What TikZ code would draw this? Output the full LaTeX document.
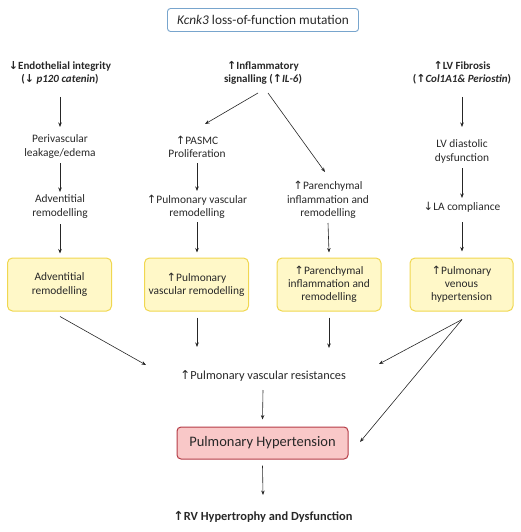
\documentclass[tikz,border=0pt]{standalone}
\usepackage{fontspec}
\setmainfont{Carlito}
\newfontfamily\arrfont{DejaVu Sans}
\usetikzlibrary{arrows.meta}
\newcommand{\uar}{{\arrfont ↑}}
\newcommand{\dar}{{\arrfont ↓}}
\definecolor{txt}{RGB}{40,40,40}
\definecolor{kcborder}{RGB}{120,165,205}
\definecolor{yfill}{RGB}{255,248,200}
\definecolor{yborder}{RGB}{240,215,80}
\definecolor{pfill}{RGB}{249,200,200}
\definecolor{pborder}{RGB}{180,60,70}
\tikzset{
  lbl/.style={inner sep=0pt, align=center, text=txt, font=\fontsize{11.4}{13.2}\selectfont},
  hdr/.style={lbl, font=\fontsize{11}{13.5}\selectfont\bfseries},
  ybox/.style={lbl, draw=yborder, fill=yfill, line width=1pt, rounded corners=5pt,
    minimum width=104pt, minimum height=53pt},
  arr/.style={-{Stealth[length=4.5pt,width=3.5pt]}, line width=0.6pt, draw=black!85},
}
\begin{document}
\begin{tikzpicture}[x=1pt,y=-1pt]
\useasboundingbox (0,0) rectangle (520,532);
\node[lbl, draw=kcborder, line width=0.9pt, rounded corners=3pt, minimum width=191pt,
  minimum height=23pt, font=\fontsize{13.3}{15}\selectfont] (kc) at (263,20)
  {\textit{Kcnk3} loss-of-function mutation};
% row 1
\node[hdr] (endo) at (60,73) {\dar Endothelial integrity\\(\dar\ \textit{p120 catenin})};
\node[hdr] (infl) at (263,73) {\uar Inflammatory\\signalling (\uar\textit{IL-6})};
\node[hdr] (lvf) at (462,73) {\uar LV Fibrosis\\(\uar\textit{Col1A1\& Periostin})};
% row 2
\node[lbl] (peri) at (60,146.5) {Perivascular\\leakage/edema};
\node[lbl] (pasmc) at (197,146.5) {\uar PASMC\\Proliferation};
\node[lbl] (lvd) at (462,151.5) {LV diastolic\\dysfunction};
% row 3
\node[lbl] (adv) at (60,206.5) {Adventitial\\remodelling};
\node[lbl] (pvr) at (197,206.5) {\uar Pulmonary vascular\\remodelling};
\node[lbl] (par) at (328,200) {\uar Parenchymal\\inflammation and\\remodelling};
\node[lbl] (lac) at (462,207) {\dar LA compliance};
% boxes
\node[ybox] (b1) at (59.5,284.5) {Adventitial\\remodelling};
\node[ybox] (b2) at (196.5,284.5) {\uar Pulmonary\\vascular remodelling};
\node[ybox] (b3) at (329,284.5) {\uar Parenchymal\\inflammation and\\remodelling};
\node[ybox, minimum width=103pt] (b4) at (461.5,284.5) {\uar Pulmonary\\venous\\hypertension};
% lower
\node[lbl, font=\fontsize{12.3}{14}\selectfont] (res) at (263,376) {\uar Pulmonary vascular resistances};
\node[lbl, draw=pborder, fill=pfill, line width=1pt, rounded corners=4pt,
  minimum width=171pt, minimum height=32pt, font=\fontsize{14.5}{17}\selectfont] (ph) at (262.5,443)
  {Pulmonary Hypertension};
\node[hdr, font=\fontsize{12.4}{14}\selectfont\bfseries] (rv) at (263,517) {\uar RV Hypertrophy and Dysfunction};
% arrows
\draw[arr] ([yshift=-24pt]endo.center) -- ([yshift=19.5pt]peri.center);
\draw[arr] ([yshift=-16.5pt]peri.center) -- ([yshift=14.5pt]adv.center);
\draw[arr] ([yshift=-17.5pt]adv.center) -- ([xshift=0.5pt,yshift=4pt]b1.north);
\draw[arr] ([yshift=-24pt]lvf.center) -- ([yshift=24.5pt]lvd.center);
\draw[arr] ([yshift=-16.5pt]lvd.center) -- ([yshift=9pt]lac.center);
\draw[arr] ([yshift=-15pt]lac.center) -- ([xshift=0.5pt,yshift=6pt]b4.north);
\draw[arr] ([yshift=-16.5pt]pasmc.center) -- ([yshift=15.5pt]pvr.center);
\draw[arr] ([yshift=-15.5pt]pvr.center) -- ([xshift=0.5pt,yshift=5pt]b2.north);
\draw[arr] ([yshift=-23pt]par.center) -- ([yshift=5pt]b3.north);
\draw[arr] ([xshift=-5pt,yshift=-20pt]infl.center) -- ([xshift=8pt,yshift=22.5pt]pasmc.center);
\draw[arr] ([xshift=5pt,yshift=-20pt]infl.center) -- ([xshift=-3pt,yshift=28pt]par.center);
\draw[arr] ([xshift=0.5pt,yshift=-5pt]b1.south) -- ([xshift=-117pt,yshift=11pt]res.center);
\draw[arr] ([xshift=0.5pt,yshift=-6pt]b2.south) -- ([xshift=-66pt,yshift=29pt]res.center);
\draw[arr] ([yshift=-6pt]b3.south) -- ([xshift=66pt,yshift=28pt]res.center);
\draw[arr] ([xshift=0.5pt,yshift=-8pt]b4.south) -- ([xshift=116pt,yshift=12pt]res.center);
\draw[arr] ([xshift=0.5pt,yshift=-8pt]b4.south) -- ([xshift=97.5pt,yshift=1pt]ph.center);
\draw[arr] ([yshift=-14pt]res.center) -- ([yshift=7pt]ph.north);
\draw[arr] ([yshift=-6pt]ph.south) -- ([yshift=22pt]rv.center);
\end{tikzpicture}
\end{document}
